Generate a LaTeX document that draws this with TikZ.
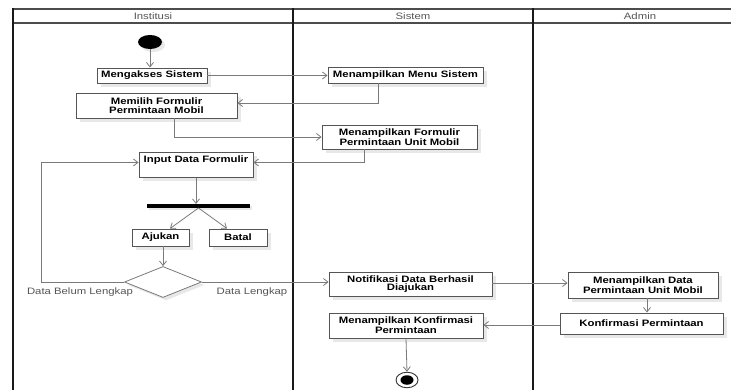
\documentclass[tikz,border=0pt]{standalone}
\usepackage{fontspec}
\newfontfamily\dfont[FakeStretch=1.22]{Liberation Sans}
\usetikzlibrary{arrows.meta,shapes.geometric,shadows}
\definecolor{edgegrey}{HTML}{7A7A7A}
\definecolor{boxgrey}{HTML}{555555}
\definecolor{labgrey}{HTML}{555555}
\begin{document}
\begin{tikzpicture}[x=1pt,y={(0pt,-1pt)},
  lane/.style={line width=1.8pt,black!90},
  hline/.style={line width=1.6pt,black!70},
  lanetitle/.style={font=\dfont\fontsize{9.3}{10}\selectfont,text=labgrey,inner sep=0pt},
  actbox/.style={draw=boxgrey,line width=0.9pt,fill=white,rectangle,inner sep=0pt,align=center,
    font=\dfont\bfseries\fontsize{9.3}{8.6}\selectfont,
    drop shadow={shadow xshift=4pt,shadow yshift=-4pt,fill=black!9,opacity=1}},
  flow/.style={draw=edgegrey,line width=0.8pt,-{Straight Barb[length=4.5pt,width=7pt]}},
  plain/.style={draw=edgegrey,line width=0.8pt},
  guard/.style={font=\dfont\fontsize{9.3}{10}\selectfont,text=labgrey,inner sep=0pt}
]
\useasboundingbox (0,0) rectangle (731,390);

% swimlanes
\draw[hline] (13,9) -- (731,9);
\draw[hline] (13,23) -- (731,23);
\draw[lane] (13,390) -- (13,8.2);
\draw[lane] (293,8.2) -- (293,390);
\draw[lane] (533,8.2) -- (533,390);
\node[lanetitle] (t1) at (153,16) {Institusi};
\node[lanetitle] (t2) at (413,16) {Sistem};
\node[lanetitle] (t3) at (640,16) {Admin};

% nodes
\node[ellipse,fill=black,minimum width=24pt,minimum height=14pt,inner sep=0pt,
  drop shadow={shadow xshift=3pt,shadow yshift=-3pt,fill=black!9,opacity=1}] (start) at (150,42) {};
\node[actbox,minimum width=110pt,minimum height=15pt] (mengakses) at (152,75.5) {Mengakses Sistem};
\node[actbox,minimum width=155pt,minimum height=16pt] (menu) at (405.5,75) {Menampilkan Menu Sistem};
\node[actbox,minimum width=161pt,minimum height=25pt] (memilih) at (156.5,105.5) {Memilih Formulir\\Permintaan Mobil};
\node[actbox,minimum width=155pt,minimum height=24pt] (formulir) at (399.5,137) {Menampilkan Formulir\\Permintaan Unit Mobil};
\node[actbox,anchor=north,minimum width=114pt,inner ysep=2pt,text height=8pt,text depth=13pt] (input) at (196,152) {Input Data Formulir};
\node[rectangle,fill=black,minimum width=103pt,minimum height=3.6pt,inner sep=0pt,
  drop shadow={shadow xshift=2pt,shadow yshift=-2pt,fill=black!9,opacity=1}] (bar) at (198.5,206) {};
\node[actbox,minimum width=57pt,minimum height=17pt] (ajukan) at (160.5,237.5) {Ajukan};
\node[actbox,minimum width=58pt,minimum height=17pt] (batal) at (238,237.5) {Batal};
\node[diamond,draw=edgegrey,line width=0.8pt,fill=white,minimum width=77pt,minimum height=31pt,inner sep=0pt,
  drop shadow={shadow xshift=3pt,shadow yshift=-3pt,fill=black!9,opacity=1}] (dec) at (163,282) {};
\node[actbox,minimum width=163pt,minimum height=24pt] (notif) at (410.5,284) {Notifikasi Data Berhasil\\Diajukan};
\node[actbox,minimum width=150pt,minimum height=26pt] (mdata) at (643,285) {Menampilkan Data\\Permintaan Unit Mobil};
\node[actbox,minimum width=163pt,minimum height=21pt] (konf) at (641.5,323.5) {Konfirmasi Permintaan};
\node[actbox,minimum width=154pt,minimum height=25pt] (mkonf) at (406,325.5) {Menampilkan Konfirmasi\\Permintaan};
\node[ellipse,draw=black!80,line width=0.9pt,fill=white,minimum width=22pt,minimum height=15.5pt,inner sep=0pt] (end) at (407,380) {};
\node[ellipse,fill=black,minimum width=13pt,minimum height=9.5pt,inner sep=0pt] (endin) at (end.center) {};

\coordinate (loop) at (41,220);

% guards
\node[guard] (g1) at (80,292.5) {Data Belum Lengkap};
\node[guard] (g2) at (252,292.5) {Data Lengkap};

% connectors
\draw[flow] (start.south) -- (start.south |- mengakses.north);
\draw[flow] (mengakses.east) -- (mengakses.east -| menu.west);
\draw[flow] ([xshift=-27.5pt]menu.south) |- ([yshift=2.5pt]memilih.east);
\draw[flow] ([xshift=17.5pt]memilih.south) |- (formulir.west);
\draw[flow] ([xshift=-35.5pt]formulir.south) |- ([yshift=2.5pt]input.east);
\draw[flow] (input.south) -- (input.south |- bar.north);
\draw[flow] (bar.south) -- ([xshift=9.5pt]ajukan.north);
\draw[flow] (bar.south) -- ([xshift=-11pt]batal.north);
\draw[flow] ([xshift=2.5pt]ajukan.south) -- (dec.north);
\draw[plain] (dec.west) -| (loop);
\draw[flow] (loop) |- ([yshift=2.5pt]input.west);
\draw[flow] (dec.east) -- (dec.east -| notif.west);
\draw[flow] ([yshift=1pt]notif.east) -- ([yshift=1pt]notif.east -| mdata.west);
\draw[flow] ([xshift=4pt]mdata.south) -- ([xshift=4pt]mdata.south |- konf.north);
\draw[flow] ([yshift=-1.5pt]konf.west) -- ([yshift=-1.5pt]konf.west -| mkonf.east);
\draw[flow] (mkonf.south) -- (end.north);
\end{tikzpicture}
\end{document}
